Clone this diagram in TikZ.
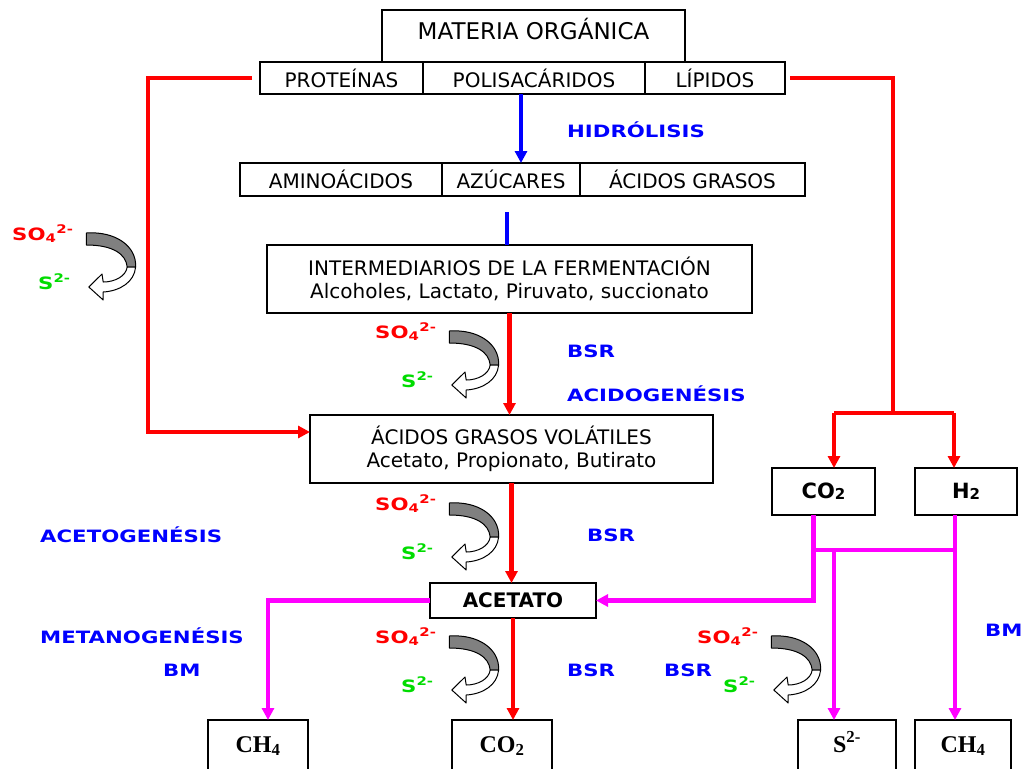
\documentclass[tikz,border=0pt]{standalone}
\usepackage{fontspec}
\setmainfont{DejaVu Sans}
\newfontfamily\lblfont[FakeStretch=1.25]{DejaVu Sans}
\newfontfamily\serfont{Liberation Serif}
\usetikzlibrary{arrows.meta}
\definecolor{rojo}{RGB}{255,0,0}
\definecolor{azul}{RGB}{0,0,255}
\definecolor{verde}{RGB}{0,220,0}
\definecolor{rosa}{RGB}{255,0,255}
\tikzset{
  rizo/.pic={
    \begin{scope}[yscale=-1,xscale=1.2,line width=1pt,line join=round]
      \filldraw[fill=black!50] (-18,31) .. controls (6,33) and (24,18) .. (23,-3)
        -- (16,-3) .. controls (15,10) and (4,19) .. (-18,19) -- cycle;
      \filldraw[fill=white] (23,-3) .. controls (22,-18) and (10,-27) .. (-4,-28)
        -- (-4,-36) -- (-16,-23) -- (-5,-10) -- (-4,-18)
        .. controls (6,-18) and (15,-12) .. (16,-3) -- cycle;
    \end{scope}
  }
}
\begin{document}
\begin{tikzpicture}[x=1pt,y=-1pt,
  caja/.style={draw,line width=1.3pt,inner sep=0pt,outer sep=0pt,align=center,font=\fontsize{20}{23}\selectfont},
  fondo/.style={caja,anchor=north,inner ysep=0pt,text height=32pt,text depth=60pt,font=\serfont\bfseries\fontsize{24}{26}\selectfont},
  etiq/.style={anchor=west,inner sep=0pt,text=azul,font=\lblfont\bfseries\fontsize{17}{20}\selectfont},
  sulf/.style={anchor=base west,inner sep=0pt,text=rojo,font=\lblfont\bfseries\fontsize{17}{20}\selectfont},
  sulfuro/.style={sulf,text=verde},
  rojoln/.style={draw=rojo,line width=4.5pt},
  rojoflecha/.style={rojoln,-{Triangle[length=12pt,width=12pt]}},
  azulln/.style={draw=azul,line width=4.5pt},
  azulflecha/.style={azulln,-{Triangle[length=12pt,width=12pt]}},
  rosaln/.style={draw=rosa,line width=4.5pt},
  rosaflecha/.style={rosaln,-{Triangle[length=12pt,width=12pt]}}]
  \fill[white] (0,0) rectangle (1021,769);
  \useasboundingbox (0,0) rectangle (1021,769);
  \clip (0,0) rectangle (1021,769);

  % cajas
  \node[caja,anchor=north,minimum width=303pt,text height=29pt,text depth=23pt,font=\fontsize{23}{26}\selectfont] (mat) at (533.5,10) {MATERIA ORGÁNICA};
  \node[caja,minimum width=163pt,minimum height=32pt] (prot) at (341.5,78) {PROTEÍNAS};
  \node[caja,minimum width=222pt,minimum height=32pt] (polis) at (534,78) {POLISACÁRIDOS};
  \node[caja,minimum width=140pt,minimum height=32pt] (lip) at (715,78) {LÍPIDOS};
  \node[caja,minimum width=202pt,minimum height=33pt] (amino) at (341,179.5) {AMINOÁCIDOS};
  \node[caja,minimum width=138pt,minimum height=33pt] (azuc) at (511,179.5) {AZÚCARES};
  \node[caja,minimum width=225pt,minimum height=33pt] (acgr) at (692.5,179.5) {ÁCIDOS GRASOS};
  \node[caja,minimum width=485pt,minimum height=68pt] (inter) at (509.5,279)
    {INTERMEDIARIOS DE LA FERMENTACIÓN\\Alcoholes, Lactato, Piruvato, succionato};
  \node[caja,minimum width=403pt,minimum height=68pt] (agv) at (511.5,449)
    {ÁCIDOS GRASOS VOLÁTILES\\Acetato, Propionato, Butirato};
  \node[caja,minimum width=166pt,minimum height=35pt,font=\bfseries\fontsize{20}{23}\selectfont] (acet) at (513,600.5) {ACETATO};
  \node[caja,minimum width=103pt,minimum height=47pt,font=\bfseries\fontsize{21}{24}\selectfont] (co2m) at (823.5,491.5)
    {CO\raisebox{-1pt}{\fontsize{15}{15}\selectfont 2}};
  \node[caja,minimum width=102pt,minimum height=47pt,font=\bfseries\fontsize{21}{24}\selectfont] (h2) at (966,491.5)
    {H\raisebox{-1pt}{\fontsize{15}{15}\selectfont 2}};
  \node[fondo,minimum width=100pt] (ch4a) at (258,720) {CH\textsubscript{4}};
  \node[fondo,minimum width=100pt] (co2b) at (502,720) {CO\textsubscript{2}};
  \node[fondo,minimum width=98pt] (s2b) at (847,720) {S\textsuperscript{2-}};
  \node[fondo,minimum width=96pt] (ch4b) at (963,720) {CH\textsubscript{4}};

  % etiquetas
  \node[etiq] (hidro) at (567,130) {HIDRÓLISIS};
  \node[etiq] (bsra) at (567,351) {BSR};
  \node[etiq] (acido) at (567,394) {ACIDOGENÉSIS};
  \node[etiq] (aceto) at (40,535) {ACETOGENÉSIS};
  \node[etiq] (bsrb) at (587,535) {BSR};
  \node[etiq] (metano) at (40,636) {METANOGENÉSIS};
  \node[etiq] (bma) at (163,670) {BM};
  \node[etiq] (bsrc) at (567,670) {BSR};
  \node[etiq] (bsrd) at (664,670) {BSR};
  \node[etiq] (bmb) at (985,630) {BM};

  % sulfato -> sulfuro
  \foreach \n/\px/\py in {a/12/240, b/375/338, c/375/510, d/375/643, e/697/643} {
    \node[sulf] (so\n) at (\px,\py) {SO\textsubscript{4}\textsuperscript{2-}};
    \node[sulfuro] (s\n) at (\px+26,\py+49) {S\textsuperscript{2-}};
    \pic at (\px+96,\py+24) {rizo};
  }

  % conectores
  \coordinate (izqa) at (148,78);
  \coordinate (izqb) at (148,432);
  \draw[rojoflecha] ([xshift=-8pt]prot.west) -- (izqa) -- (izqb) -- (izqb -| agv.west);
  \coordinate (dera) at (893,78);
  \coordinate (derb) at (893,413);
  \coordinate (ramc) at (834,413);
  \coordinate (ramh) at (954,413);
  \draw[rojoln] ([xshift=5pt]lip.east) -- (dera) -- (derb);
  \draw[rojoln] (ramc) -- (ramh);
  \draw[rojoflecha] (ramc) -- (ramc |- co2m.north);
  \draw[rojoflecha] (ramh) -- (ramh |- h2.north);

  \coordinate (hid) at (521,94);
  \draw[azulflecha] (hid) -- (hid |- azuc.north);
  \coordinate (fer) at (507,212);
  \draw[azulln] (fer) -- (fer |- inter.north);

  \draw[rojoflecha] (inter.south) -- (inter.south |- agv.north);
  \draw[rojoflecha] (agv.south) -- (agv.south |- acet.north);
  \draw[rojoflecha] (acet.south) -- (acet.south |- co2b.north);

  \draw[rosaflecha] (acet.west) -| ([xshift=10pt]ch4a.north);
  \draw[rosaflecha] ([xshift=-10pt]co2m.south) |- (acet.east);
  \coordinate (hbase) at ([xshift=-11pt]h2.south);
  \coordinate (puente) at (814,550);
  \coordinate (sx) at (834,550);
  \draw[rosaln] (puente) -- (puente -| hbase);
  \draw[rosaflecha] (hbase) -- (hbase |- ch4b.north);
  \draw[rosaflecha] (sx) -- (sx |- s2b.north);
\end{tikzpicture}
\end{document}
